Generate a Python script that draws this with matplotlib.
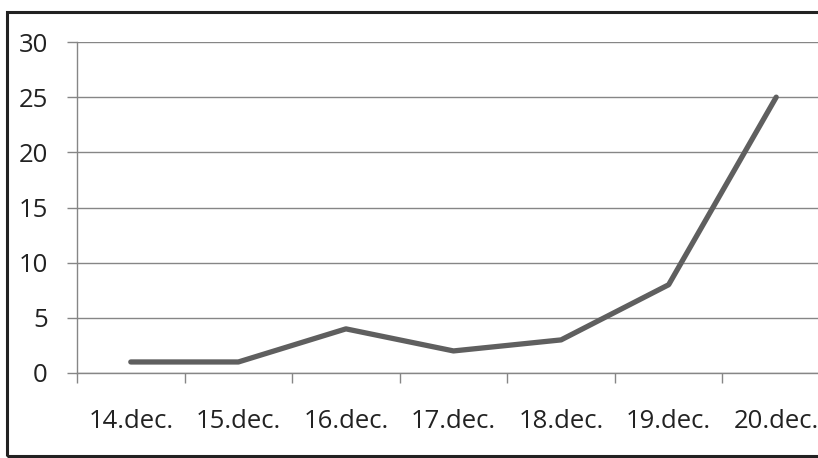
import matplotlib.pyplot as plt
from matplotlib.patches import Rectangle
import numpy as np

dates = ["14.dec.", "15.dec.", "16.dec.", "17.dec.", "18.dec.", "19.dec.", "20.dec."]
counts = [1, 1, 4, 2, 3, 8, 25]

plt.rcParams['font.family'] = ['Open Sans', 'DejaVu Sans']

fig = plt.figure(figsize=(8.18, 4.58), dpi=100)
# plot area runs past the right edge, like the cropped original
ax = fig.add_axes([77 / 818, 85 / 458, (830 - 77) / 818, 331 / 458])

x = np.arange(len(dates))
ax.plot(x, counts, color='#5f5f5f', linewidth=3.8, solid_capstyle='round', zorder=3)

ax.set_xlim(-0.5, len(dates) - 0.5)
ax.set_ylim(0, 30)
ax.set_yticks(range(0, 31, 5))
ax.yaxis.grid(True, color='#868686', linewidth=1)
ax.set_axisbelow(True)

ax.set_xticks(x)
ax.set_xticklabels(dates)
ax.set_xticks(np.arange(-0.5, len(dates), 1), minor=True)
ax.tick_params(axis='x', which='major', length=0, pad=26, labelsize=18.5, colors='#222222')
ax.tick_params(axis='x', which='minor', length=7, width=1, color='#868686')
ax.tick_params(axis='y', length=7, width=1, color='#868686', pad=14, labelsize=18.5, labelcolor='#222222')

for side in ['top', 'right']:
    ax.spines[side].set_visible(False)
for side in ['left', 'bottom']:
    ax.spines[side].set_color('#868686')
    ax.spines[side].set_linewidth(1)

# outer chart border
fig.patches.append(Rectangle((7 / 818, 2 / 458), 1.05, 444 / 458, transform=fig.transFigure,
                             fill=False, edgecolor='#222222', linewidth=2.2, clip_on=False))

fig.savefig("out.png", dpi=100)
